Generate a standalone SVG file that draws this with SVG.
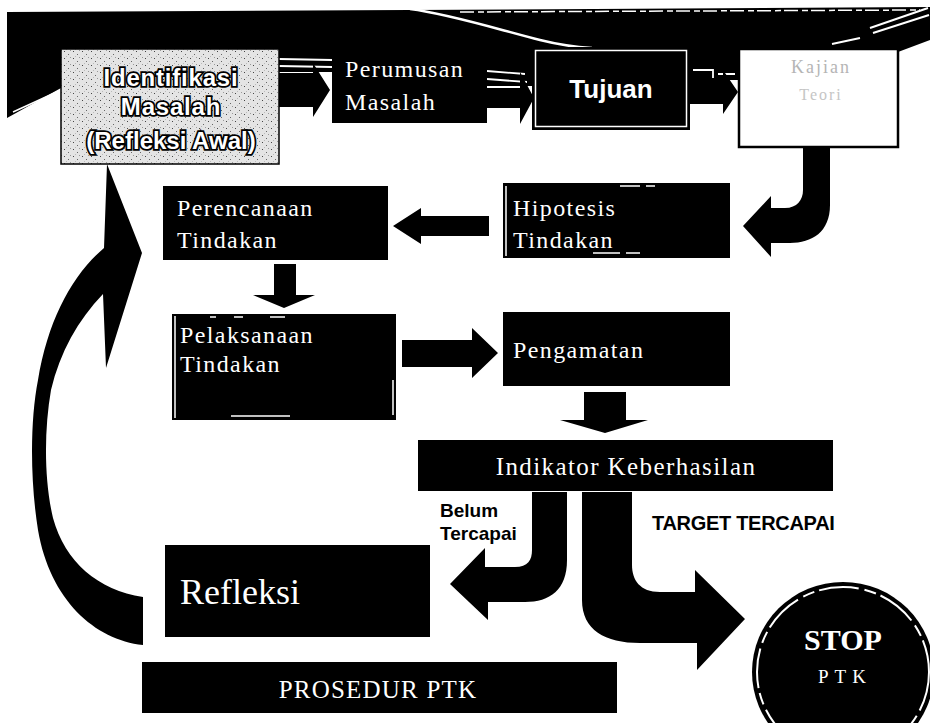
<svg xmlns="http://www.w3.org/2000/svg" width="930" height="723" viewBox="0 0 930 723">
<style>
.blk{fill:#000}
.serif{font-family:"Liberation Serif","Times New Roman",serif;fill:#fff}
.lbl{font-size:24px;letter-spacing:1.4px}
.sans{font-family:"Liberation Sans",Arial,sans-serif;font-weight:bold}
.wl{stroke:#fff;fill:none}
</style>
<defs>
<pattern id="tex" width="9" height="7" patternUnits="userSpaceOnUse">
<rect width="9" height="7" fill="#e4e4e4"/>
<rect x="1" y="2" width="1" height="1" fill="#444"/>
<rect x="5" y="5" width="1" height="1" fill="#666"/>
<rect x="7" y="1" width="1" height="1" fill="#999"/>
<rect x="3" y="0" width="1" height="1" fill="#bbb"/>
</pattern>
</defs>
<rect width="930" height="723" fill="#fff"/>

<!-- decorative top band -->
<g id="band">
<path class="blk" d="M7,12 L410,10 L930,7 L930,40 L898,52 L898,72 L738,72 L738,80 L690,80 L690,70 L532,70 L532,86 L487,86 L487,68 L332,68 L332,72 L279,72 L279,55 L61,55 L61,88 L7,118 Z"/>
<path class="wl" stroke-width="2.5" d="M410,9 C450,14 500,30 540,40 C560,45 575,47 592,48"/>
<path class="wl" stroke-width="1.5" stroke-dasharray="14 4 6 3" d="M460,12 L920,10"/>
<path class="wl" stroke-width="2" d="M870,28 L928,8 M873,33 L929,15 M832,44 L860,38"/>
<path class="wl" stroke-width="1.5" d="M13,112 L61,90"/>
<path class="wl" stroke-width="1.8" d="M279,59 L332,60 M279,66 L332,67 M487,71 L525,74 M487,79 L527,82 M693,70 L713,70 L713,78 M718,74 L735,74"/>
</g>

<g id="connectors">
<polygon class="blk" points="279,73 313,73 313,63 330,90 313,117 313,107 279,107"/>
<polygon class="blk" points="487,88 520,88 520,72 534,98 520,124 520,108 487,108"/>
<polygon class="blk" points="690,80 723,80 723,70 738,92 723,114 723,104 690,104"/>
<path class="blk" d="M803,147 H830 V205 C830,232 812,243 790,243 H771 V257 L743,226 L771,196 V208 H785 C797,208 803,200 803,190 Z"/>
<polygon class="blk" points="489,216 421,216 421,208 393,226 421,244 421,236 489,236"/>
<polygon class="blk" points="274,264 296,264 296,295 315,295 284,308 253,295 274,295"/>
<polygon class="blk" points="402,340 472,340 472,328 498,353 472,378 472,367 402,367"/>
<polygon class="blk" points="584,392 626,392 626,420 648,420 605,433 560,420 584,420"/>
<path class="blk" d="M532,492 H567 V560 C567,590 550,602 525,602 H488 V620 L450,584 L485,548 V567 H515 C528,567 532,560 532,550 Z"/>
<path class="blk" d="M582,492 H632 V565 C632,580 640,592 660,592 H695 V570 L745,619 L697,670 V643 H640 C605,643 582,630 582,600 Z"/>
<path class="blk" d="M143,645 C95,640 50,600 38,530 C30,480 30,420 38,380 C48,320 72,275 104,248 L107,164 L142,253 L106,368 L103,294 C78,320 60,352 51,390 C44,430 44,480 53,518 C65,562 98,590 143,597 Z"/>
</g>

<g id="identifikasi">
<rect x="61" y="49" width="218" height="115" fill="url(#tex)" stroke="#000" stroke-width="1.5"/>
<g class="sans" font-size="24" text-anchor="middle" fill="#fff" stroke="#000" stroke-width="3.5" paint-order="stroke" letter-spacing="0.8">
<text x="171" y="86">Identifikasi</text>
<text x="171" y="115">Masalah</text>
<text x="171" y="149" letter-spacing="0">(Refleksi Awal)</text>
</g>
</g>

<g id="perumusan">
<rect class="blk" x="332" y="49" width="155" height="74"/>
<text class="serif lbl" x="345" y="77">Perumusan</text>
<text class="serif lbl" x="345" y="110">Masalah</text>
</g>

<g id="tujuan">
<rect class="blk" x="532" y="47" width="158" height="83"/>
<rect x="535.5" y="50.5" width="151" height="76" fill="none" stroke="#fff" stroke-width="1.5"/>
<text class="sans" x="611" y="98" font-size="26" fill="#fff" text-anchor="middle">Tujuan</text>
</g>

<g id="kajian">
<rect x="739" y="49" width="159" height="98" fill="#fff" stroke="#000" stroke-width="2.5"/>
<text x="821" y="73" font-family="Liberation Serif, serif" font-size="18" fill="#b5b5b5" text-anchor="middle" letter-spacing="2">Kajian</text>
<text x="821" y="100" font-family="Liberation Serif, serif" font-size="16" fill="#c5c5c5" text-anchor="middle" letter-spacing="2">Teori</text>
</g>

<g id="hipotesis">
<rect class="blk" x="503" y="183" width="227" height="75"/>
<path class="wl" stroke-width="1.5" d="M506,186 V256 M620,186 H640 M646,186 H655 M593,253 H620 M626,253 H640"/>
<text class="serif lbl" x="513" y="216">Hipotesis</text>
<text class="serif lbl" x="513" y="248">Tindakan</text>
</g>

<g id="perencanaan">
<rect class="blk" x="163" y="186" width="225" height="74"/>
<text class="serif lbl" x="177" y="216">Perencanaan</text>
<text class="serif lbl" x="177" y="248">Tindakan</text>
</g>

<g id="pelaksanaan">
<rect class="blk" x="172" y="314" width="224" height="106"/>
<path class="wl" stroke-width="1.5" d="M175,316 V418 M210,317 H216 M234,317 H243 M270,317 H285 M393,380 V415 M231,416 H290"/>
<text class="serif lbl" x="180" y="343">Pelaksanaan</text>
<text class="serif lbl" x="180" y="372">Tindakan</text>
</g>

<g id="pengamatan">
<rect class="blk" x="503" y="312" width="227" height="74"/>
<text class="serif lbl" x="513" y="358">Pengamatan</text>
</g>

<g id="indikator">
<rect class="blk" x="418" y="440" width="415" height="51"/>
<text class="serif" x="626" y="475" font-size="25" letter-spacing="1.4" text-anchor="middle">Indikator Keberhasilan</text>
</g>

<g id="labels" class="sans" font-size="19" fill="#000">
<text x="440" y="517">Belum</text>
<text x="440" y="540">Tercapai</text>
<text x="652" y="530" font-size="20" letter-spacing="-0.3">TARGET TERCAPAI</text>
</g>

<g id="refleksi">
<rect class="blk" x="165" y="545" width="265" height="92"/>
<text class="serif" x="180" y="604" font-size="36">Refleksi</text>
</g>

<g id="prosedur">
<rect class="blk" x="142" y="662" width="475" height="51"/>
<text class="serif" x="378" y="698" font-size="25" letter-spacing="1.2" text-anchor="middle">PROSEDUR PTK</text>
</g>

<g id="stop">
<ellipse class="blk" cx="843" cy="672" rx="91" ry="90"/>
<ellipse cx="843" cy="672" rx="86" ry="85" fill="none" stroke="#fff" stroke-width="2" stroke-dasharray="40 6 12 5"/>
<text class="serif" x="843" y="650" font-size="30" font-weight="bold" text-anchor="middle">STOP</text>
<text class="serif" x="845" y="683" font-size="19" letter-spacing="6" text-anchor="middle">PTK</text>
</g>
</svg>
